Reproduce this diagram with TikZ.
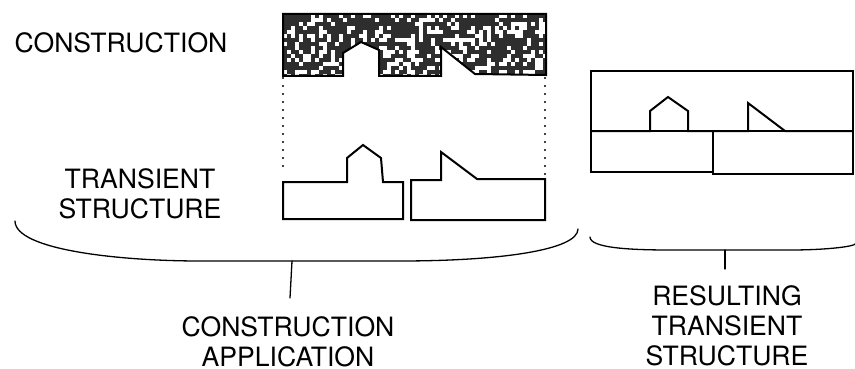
\documentclass[tikz,border=0pt]{standalone}
\usepackage{fontspec}
\setmainfont{TeX Gyre Heros}
\begin{document}
\begin{tikzpicture}[x=1pt,y=-1pt,
  outline/.style={line width=2pt, line join=miter},
  lbl/.style={font=\fontsize{26.6}{30}\selectfont, align=center, inner sep=0pt, anchor=north},
  guide/.style={line width=2.2pt, dash pattern=on 0pt off 8pt, line cap=round},
  bracecurve/.style={line width=1.3pt, line cap=round}]
\useasboundingbox (0,0) rectangle (855,369);

% ---- construction: dark speckled block with its template profile
\def\conspath{(283,14) -- (546,14) -- (546,75) -- (475,74) -- (441,47) -- (441,76) -- (379,76) -- (379,50) -- (361,42) -- (343,53) -- (343,76) -- (283,76) -- cycle}
\fill[black!82] \conspath;
\begin{scope}
  \clip \conspath;
  \pgfmathsetseed{4217}
  \foreach \i in {0,...,65}{
    \foreach \j in {0,...,15}{
      \pgfmathtruncatemacro\w{rnd<0.36 ? 1 : 0}
      \ifnum\w=1 \fill[white] (283+\i*4,14+\j*4) rectangle ++(4,4); \fi
    }
  }
\end{scope}
\draw[outline] \conspath;

\coordinate (cl) at (283,78);
\coordinate (cr) at (545,78);
\coordinate (tl) at (283,173);
\coordinate (tr) at (545,177);
\draw[guide] (cl) -- (tl);
\draw[guide] (cr) -- (tr);

% ---- transient structure: two units
\draw[outline] (283,182) -- (347,182) -- (347,158) -- (363,145) -- (381,158) -- (383,182) -- (403,182) -- (403,219) -- (283,219) -- cycle;
\draw[outline] (411,180) -- (441,180) -- (441,152) -- (477,179) -- (545,179) -- (545,220) -- (411,220) -- cycle;

% ---- resulting transient structure
\draw[outline] (591,131) -- (591,71) -- (853,71) -- (853,131);
\draw[outline] (591,131) -- (650,131) -- (650,111) -- (668,97) -- (688,111) -- (688,131) -- (748,131) -- (748,103) -- (785,131) -- (853,131);
\draw[outline] (591,131) rectangle (713,172);
\draw[outline] (713,131) rectangle (853,174);

% ---- braces
\coordinate (lb) at (292,261);
\coordinate (lbend) at (290,298);
\draw[bracecurve] (15,221) .. controls (15,250) and (120,261) .. (200,261) -- (400,261) .. controls (500,261) and (578,250) .. (578,229);
\draw[bracecurve] (lb) -- (lbend);

\coordinate (rb) at (725,250);
\coordinate (rbend) at (725,269);
\draw[bracecurve] (590,237) .. controls (590,248) and (630,250) .. (670,250) -- (790,250) .. controls (830,250) and (855,246) .. (855,244);
\draw[bracecurve] (rb) -- (rbend);

% ---- labels
\node[lbl] (construction) at (121,32) {CONSTRUCTION};
\node[lbl] (transient) at (140,168) {TRANSIENT\\STRUCTURE};
\node[lbl] (application) at (288,316) {CONSTRUCTION\\APPLICATION};
\node[lbl] (result) at (727,285) {RESULTING\\TRANSIENT\\STRUCTURE};
\end{tikzpicture}
\end{document}
